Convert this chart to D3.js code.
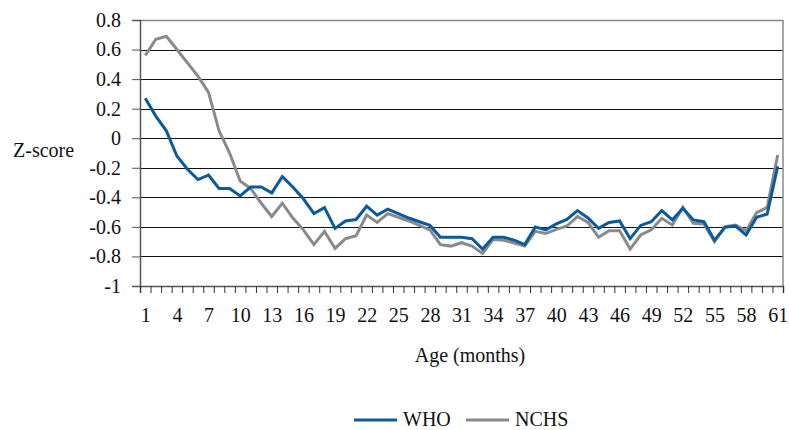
<!DOCTYPE html>
<html>
<head>
<meta charset="utf-8">
<script src="https://cdn.jsdelivr.net/npm/d3@7"></script>
<style>
  html, body { margin: 0; padding: 0; background: #fff; }
  svg { display: block; }
  svg text { font-family: "Liberation Serif", "Times New Roman", serif !important; font-size: 20px !important; fill: #111; }
</style>
</head>
<body>
<svg id="chart" width="789" height="430"></svg>
<script>
const ages = d3.range(1, 62);
const who = [0.27, 0.15, 0.05, -0.12, -0.21, -0.28, -0.25, -0.34, -0.34, -0.39,
  -0.33, -0.33, -0.37, -0.26, -0.33, -0.41, -0.51, -0.47, -0.61, -0.56,
  -0.55, -0.46, -0.52, -0.48, -0.51, -0.54, -0.565, -0.59, -0.67, -0.67,
  -0.67, -0.68, -0.75, -0.67, -0.67, -0.69, -0.72, -0.60, -0.62, -0.58,
  -0.55, -0.49, -0.54, -0.61, -0.57, -0.56, -0.68, -0.59, -0.565, -0.49,
  -0.553, -0.474, -0.553, -0.565, -0.69, -0.603, -0.594, -0.655, -0.535, -0.513, -0.19];
const nchs = [0.56, 0.67, 0.69, 0.60, 0.51, 0.42, 0.31, 0.05, -0.10, -0.29,
  -0.34, -0.44, -0.53, -0.44, -0.54, -0.62, -0.72, -0.63, -0.745, -0.68,
  -0.66, -0.52, -0.57, -0.51, -0.535, -0.56, -0.59, -0.62, -0.72, -0.73,
  -0.707, -0.73, -0.78, -0.685, -0.69, -0.71, -0.73, -0.63, -0.645, -0.617,
  -0.594, -0.53, -0.57, -0.67, -0.626, -0.626, -0.75, -0.655, -0.62, -0.542,
  -0.587, -0.468, -0.576, -0.58, -0.70, -0.598, -0.587, -0.626, -0.504, -0.468, -0.114];
const yTicks = [-1, -0.8, -0.6, -0.4, -0.2, 0, 0.2, 0.4, 0.6, 0.8];
const xTickLabels = d3.range(1, 62, 3);
const seriesNames = ["WHO", "NCHS"];
const seriesColors = ["#0B5A9C", "#8A8A8A"];

(function () {
const svg = d3.select("#chart");
const pLeft = 140, pRight = 783, pTop = 20, pBottom = 286;

const x = d3.scaleBand().domain(ages).range([pLeft, pRight]).padding(0);
const xl = d3.scaleLinear().domain([0.5, 61.5]).range([pLeft, pRight]);
const y = d3.scaleLinear().domain([-1, 0.8]).range([pBottom, pTop]);

// gridlines
svg.append("g").selectAll("line")
  .data(yTicks.filter(d => d > -1 && d < 0.8))
  .join("line")
  .attr("x1", pLeft).attr("x2", pRight)
  .attr("y1", d => Math.round(y(d)) + 0.5).attr("y2", d => Math.round(y(d)) + 0.5)
  .attr("stroke", "#111").attr("stroke-width", 1);

// plot border top/right
svg.append("line").attr("x1", pLeft).attr("x2", pRight + 0.5)
  .attr("y1", Math.round(y(0.8)) + 0.5).attr("y2", Math.round(y(0.8)) + 0.5)
  .attr("stroke", "#888").attr("stroke-width", 1.5);
svg.append("line").attr("x1", pRight).attr("x2", pRight)
  .attr("y1", pTop).attr("y2", pBottom)
  .attr("stroke", "#888").attr("stroke-width", 1.5);

// y axis
const fmt = d => { const v = +d.toFixed(1); return (v === 0 ? "0" : String(v)); };
const yAxis = svg.append("g").attr("transform", `translate(${pLeft},0)`)
  .call(d3.axisLeft(y).tickValues(yTicks).tickSize(8).tickPadding(11).tickFormat(fmt));
yAxis.select(".domain").attr("stroke", "#555").attr("stroke-width", 1.5);
yAxis.selectAll(".tick line").attr("stroke", "#555");

// x axis ticks (band boundaries)
const xAxisTicks = svg.append("g").attr("transform", `translate(0,${pBottom})`)
  .call(d3.axisBottom(xl).tickValues(d3.range(0.5, 62, 1)).tickSize(7).tickFormat(""));
xAxisTicks.select(".domain").attr("stroke", "#555").attr("stroke-width", 1.5);
xAxisTicks.selectAll(".tick line").attr("stroke", "#333");

// x axis labels
const xAxisLabels = svg.append("g").attr("transform", `translate(0,${pBottom})`)
  .call(d3.axisBottom(xl).tickValues(xTickLabels).tickSize(0).tickPadding(22).tickFormat(d3.format("d")));
xAxisLabels.select(".domain").remove();

// lines
const series = [who, nchs];
const line = d3.line().x((d, i) => x(ages[i]) + x.bandwidth() / 2).y(d => y(d));
[1, 0].forEach(k => {
  svg.append("path").datum(series[k])
    .attr("d", line).attr("fill", "none")
    .attr("stroke", seriesColors[k]).attr("stroke-width", 3)
    .attr("stroke-linejoin", "miter");
});

// axis titles
svg.append("text").attr("x", 13).attr("y", 157).text("Z-score");
svg.append("text").attr("x", 470).attr("y", 362)
  .attr("text-anchor", "middle").text("Age (months)");

// legend
const legendX = [354, 466];
seriesNames.forEach((name, k) => {
  svg.append("line").attr("x1", legendX[k]).attr("x2", legendX[k] + 43)
    .attr("y1", 420).attr("y2", 420)
    .attr("stroke", seriesColors[k]).attr("stroke-width", 3);
  svg.append("text").attr("x", legendX[k] + 49).attr("y", 426).text(name);
});
})();
</script>
</body>
</html>
